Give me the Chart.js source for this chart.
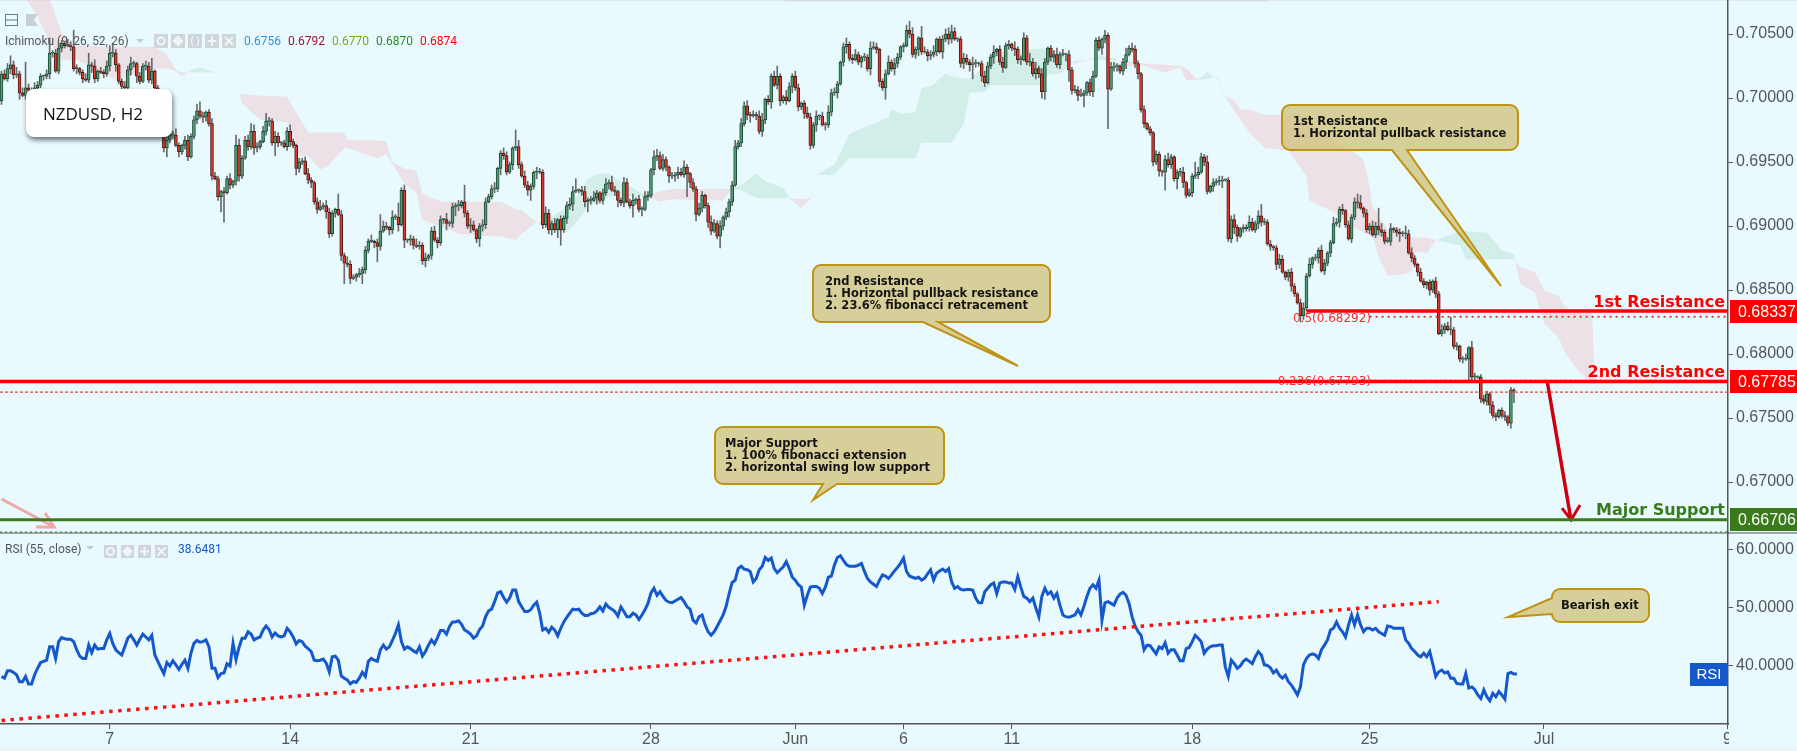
<![CDATA[<!DOCTYPE html>
<html><head><meta charset="utf-8">
<style>html,body{margin:0;padding:0;background:#e9faff;overflow:hidden}canvas{display:block}</style>
<script src="https://cdn.jsdelivr.net/npm/chart.js@4"></script>
</head><body><canvas id="c" width="1797" height="751"></canvas>
<script>
// Close of every two-hour bar, in pips (price x 10000), read off the picture.
const closePips = [
7019,7015,7023,7026,7018,7019,7004,7002,7008,7006,7005,7008,7010,7017,7017,7019,7035,7035,7021,7039,7043,7041,7041,7040,7023,
7023,7020,7015,7014,7026,7025,7015,7021,7020,7019,7025,7035,7035,7026,7013,7009,7008,7022,7027,7027,7017,7013,7025,7025,7014,
7021,7008,6998,6985,6961,6967,6971,6971,6963,6958,6963,6967,6954,6970,6983,6990,6986,6985,6989,6980,6939,6937,6923,6927,6926,
6937,6932,6935,6963,6939,6953,6967,6962,6974,6961,6962,6966,6974,6982,6982,6965,6970,6965,6965,6962,6974,6966,6963,6945,6950,
6951,6941,6936,6934,6919,6913,6915,6916,6911,6894,6910,6913,6909,6877,6871,6870,6859,6860,6862,6863,6866,6881,6888,6888,6887,
6884,6896,6900,6899,6897,6907,6907,6901,6928,6889,6889,6890,6885,6884,6885,6873,6875,6877,6896,6889,6887,6905,6905,6902,6902,
6915,6916,6916,6919,6910,6900,6901,6897,6890,6900,6901,6919,6923,6929,6929,6945,6957,6955,6942,6948,6961,6962,6948,6939,6932,
6928,6931,6942,6942,6942,6901,6910,6897,6902,6897,6905,6897,6906,6916,6917,6927,6928,6928,6927,6919,6920,6920,6922,6926,6920,
6926,6933,6934,6928,6927,6920,6918,6934,6919,6916,6920,6921,6913,6913,6923,6924,6944,6954,6955,6945,6952,6946,6939,6939,6940,
6942,6940,6946,6941,6934,6929,6909,6914,6924,6916,6903,6896,6902,6892,6900,6907,6911,6919,6932,6962,6965,6980,6994,6987,6986,
6987,6986,6974,6983,6999,6997,7017,7010,7017,6998,7001,6998,7009,7017,7008,6993,6996,6988,6985,6963,6979,6986,6986,6979,6979,
6989,7004,7004,7011,7028,7040,7042,7031,7030,7034,7028,7032,7032,7023,7039,7040,7038,7013,7008,7019,7028,7023,7027,7032,7040,
7041,7053,7050,7034,7038,7047,7036,7036,7033,7034,7036,7046,7036,7046,7050,7046,7052,7046,7046,7027,7031,7028,7026,7027,7027,
7027,7017,7012,7025,7032,7036,7038,7028,7024,7041,7042,7039,7038,7030,7030,7047,7028,7028,7019,7023,7019,7005,7028,7039,7032,
7034,7026,7034,7034,7034,7022,7006,7006,7002,7002,7004,7012,7005,7017,7045,7039,7046,7049,7007,7024,7025,7025,7021,7028,7034,
7039,7038,7027,7019,6991,6980,6976,6973,6950,6956,6943,6942,6952,6948,6954,6937,6942,6942,6934,6924,6926,6939,6940,6942,
6954,6950,6927,6931,6934,6935,6935,6936,6936,6890,6905,6899,6892,6898,6898,6899,6903,6897,6902,6908,6903,6903,6886,6884,6883,
6870,6874,6864,6860,6864,6853,6847,6840,6830,6836,6861,6870,6875,6875,6881,6865,6871,6879,6887,6902,6903,6913,6912,6901,6890,
6907,6919,6918,6914,6910,6897,6900,6893,6900,6897,6895,6888,6888,6898,6897,6895,6894,6894,6894,6879,6875,6870,6864,6857,6854,
6856,6850,6857,6847,6816,6819,6822,6819,6819,6806,6806,6796,6796,6796,6805,6782,6782,6782,6765,6763,6769,6760,6752,6751,6756,
6752,6751,6746,6772,6771];
const firstOpenPips = 6998;
// Wick above and below each body, in pips.
const wickUp = [
2,3,4,1,3,5,2,4,1,3,2,4,3,2,1,3,5,2,3,4,2,1,5,3,2,
3,1,2,4,3,2,5,1,3,2,4,6,2,3,1,2,4,3,5,2,1,3,2,4,3,
2,1,2,3,1,4,2,3,5,2,1,3,4,2,3,5,2,3,1,2,4,3,2,1,3,
2,4,1,3,5,2,3,4,2,5,3,1,4,2,3,2,4,3,1,2,3,5,2,1,3,
2,3,4,2,1,3,5,2,4,3,2,1,4,3,2,5,3,2,1,4,2,3,2,5,1,
3,2,4,3,1,5,2,3,2,4,1,3,2,5,3,2,4,1,3,4,2,3,1,5,2,
3,2,4,1,3,2,5,3,1,2,4,3,2,3,5,1,2,4,3,2,1,3,5,2,4,
3,2,1,4,3,2,5,3,2,4,1,3,2,3,5,4,2,1,3,4,2,3,5,2,1,
3,4,2,5,3,1,2,4,3,2,5,1,3,2,4,3,1,5,2,3,4,2,1,3,2,
4,3,5,2,1,3,2,4,3,1,2,5,3,2,4,1,3,2,3,5,2,4,3,1,2,
3,2,4,5,1,3,2,4,3,2,1,5,3,2,4,3,1,2,5,3,2,4,1,3,2,
5,3,4,2,1,3,5,2,3,4,2,1,3,2,5,4,3,1,2,3,5,2,4,3,1,
2,4,3,5,2,1,3,4,2,3,5,1,2,3,4,2,5,3,1,2,4,3,2,5,3,
1,2,4,3,2,5,1,3,4,2,3,1,5,2,3,4,2,1,3,5,2,4,3,1,2,
3,5,2,4,1,3,2,4,3,5,2,1,3,4,2,3,1,5,2,4,3,2,1,3,5,
2,4,3,2,1,3,1,2,1,3,2,1,3,5,2,1,2,3,4,1,3,2,1,4,3,
2,5,1,3,2,4,3,1,2,3,4,2,1,3,2,5,3,2,4,1,3,2,3,1,2,
4,3,1,2,3,2,1,3,4,2,5,1,3,2,4,3,1,2,5,3,2,4,1,3,2,
3,6,2,1,3,2,4,3,1,5,2,3,4,1,2,3,2,1,3,4,2,1,3,2,1,
2,1,3,2,4,2,3,1,2,3,1,2,4,1,2,3,1,2,3,2,1,3,2,1,2,
3,1,2,1,3];
const wickDown = [
3,1,2,4,3,2,5,1,3,4,2,3,1,2,3,2,4,3,1,2,3,2,1,3,2,
4,2,3,1,2,5,3,2,1,3,2,4,3,5,2,3,1,2,4,3,5,2,1,3,2,
3,1,2,2,3,4,2,3,1,4,2,3,3,1,2,3,2,4,3,2,3,1,3,2,4,
1,3,2,3,4,2,1,3,2,5,3,2,1,3,4,2,3,3,2,1,3,4,2,5,3,
2,1,3,4,2,3,1,2,5,3,2,3,1,4,3,2,4,1,3,2,5,3,2,1,4,
2,3,1,2,4,3,2,5,1,3,2,4,3,1,2,3,5,2,3,1,4,2,3,5,2,
3,1,4,2,3,2,5,1,3,2,4,3,1,2,3,2,5,3,2,1,4,2,3,1,2,
4,3,2,5,1,3,2,3,4,2,1,3,2,4,3,5,1,2,3,4,2,3,1,5,2,
3,2,4,1,3,5,2,3,1,2,4,3,2,5,1,3,2,4,3,1,2,3,5,2,4,
3,1,2,3,4,2,5,1,3,2,4,3,1,2,5,3,2,4,3,1,2,3,2,4,5,
1,3,2,4,3,2,5,1,3,4,2,3,1,5,2,3,2,4,1,3,2,5,3,1,4,
2,3,2,4,1,3,5,2,3,1,2,4,3,2,5,1,3,4,2,3,1,2,5,3,2,
4,1,3,2,3,5,2,1,4,3,2,3,1,5,2,4,3,1,2,3,4,2,5,1,3,
2,4,3,1,2,5,3,2,4,1,3,2,5,3,4,1,2,3,2,4,3,5,1,2,3,
4,2,3,1,5,2,3,2,4,1,3,2,3,4,1,2,5,3,2,1,3,4,2,3,5,
1,2,3,4,2,3,1,2,3,2,4,3,1,2,3,2,1,3,4,2,1,3,2,3,1,
3,2,1,4,2,3,5,1,2,3,2,4,1,3,2,3,1,2,4,3,2,1,3,2,4,
3,1,2,3,4,2,1,5,3,2,1,3,2,4,1,3,2,3,1,2,4,3,2,1,3,
2,4,1,3,2,3,1,2,4,3,2,1,3,2,3,1,2,4,1,3,2,3,1,2,3,
4,2,3,1,2,3,1,4,2,3,2,3,1,2,4,2,1,3,2,3,4,2,3,1,2,
3,2,4,1,2];
// Longer shadows that stand out: [bar, wick up, wick down] in pips; 0 keeps the normal wick.
const longWicks = [[3,7,0],[8,20,3],[16,12,0],[24,13,0],[29,9,0],[37,8,0],[50,10,0],[55,0,7],[66,7,0],[73,0,12],[74,0,23],[78,8,0],[83,6,0],[88,6,0],[91,0,10],[112,12,0],[114,0,16],[120,0,8],[125,0,12],[126,13,0],[132,11,0],[134,0,6],[151,0,7],[154,13,0],[159,0,6],[171,13,0],[176,0,8],[185,0,6],[186,0,12],[191,9,0],[195,0,8],[210,0,9],[218,5,0],[228,0,18],[239,0,9],[248,4,0],[258,8,0],[294,0,9],[302,7,0],[306,9,0],[315,5,0],[323,0,11],[342,7,0],[347,0,6],[355,0,9],[360,0,9],[367,4,0],[368,0,31],[387,0,14],[391,0,8],[397,10,0],[410,0,5],[419,9,0],[452,6,0],[458,14,0],[465,0,6],[467,6,0],[482,10,0],[488,0,16],[489,5,0],[495,0,6],[503,0,9],[504,5,7]];
// Ichimoku cloud edges in pips at the bars listed in cloudBars.
const cloudBars = [8,12,16,20,25,38,51,55,58,60, 63,66,71,76,79,80,86,95,99,102, 106,109,114,115,125,128,130,134,138,140, 143,147,152,162,166,171,173,178,180,188, 192,195,199,202,205,215,219,223,240,243, 246,251,254,260,262,266,269,271,277,282, 287,295,296,299,304,306,309,314,316,320, 322,327,329,346,348,352,356,357,361,365, 370,374,380,387,392,394,398,401,403,405, 407,410,412,415,420,428,434,435,443,449, 453,455,456,458,461,467,469,470,474,477, 485,487,494,499,503,505,510,513,518,520, 525,529,530];
const spanA = [7078,7064,7043,7030,7030,7014,7023,7023,7021,7017, 7022,7024,7020,7019,7004,6996,6983,6981,6955,6955, 6944,6948,6961,6961,6953,6956,6949,6933,6926,6905, 6902,6899,6894,6892,6892,6889,6894,6903,6903,6915, 6925,6937,6941,6941,6936,6923,6919,6921,6920,6929, 6932,6941,6935,6930,6922,6914,6921,6940,6948,6972, 6977,6985,6991,6988,6989,7008,7009,7019,7017,7015, 7015,7025,7035,7039,7039,7035,7028,7027,7030,7033, 7031,7025,7025,7020,7024,7014,7014,7021,7016,7014, 7001,6990,6983,6973,6961,6959,6939,6920,6911,6900, 6895,6892,6892,6876,6861,6863,6864,6880,6879,6889, 6896,6896,6895,6881,6878,6855,6848,6824,6812,6801, 6785,6778,6776];
const spanB = [7080,7082,7077,7051,7041,7040,7040,7034,7022,7020, 7020,7020,7020,7019,7004,7003,7002,7001,6985,6973, 6973,6973,6973,6967,6967,6966,6950,6945,6943,6925, 6922,6919,6919,6919,6919,6913,6913,6903,6900,6895, 6905,6915,6918,6923,6923,6923,6927,6929,6929,6929, 6928,6922,6922,6922,6922,6921,6922,6940,6940,6953, 6953,6953,6953,6953,6953,6965,6965,6965,6965,6980, 7004,7005,7010,7010,7018,7019,7028,7029,7030,7030, 7029,7029,7027,7026,7025,7023,7014,7015,7016,7015, 7002,6998,6991,6991,6987,6987,6987,6980,6967,6959, 6952,6931,6915,6908,6897,6891,6891,6891,6891,6889, 6885,6874,6874,6874,6874,6868,6864,6850,6845,6837, 6832,6832,6776];
// RSI(55) for every bar.
const rsiValues = [
38.2,37.9,39.2,39.2,38.9,38.5,37.3,37.3,38.2,36.9,36.9,38.5,39.6,40.6,40.8,41.0,43.3,43.3,41.3,44.2,44.9,44.7,44.6,44.6,44.2,
42.8,41.7,41.3,41.3,43.6,42.3,43.6,42.9,43.0,43.0,44.5,45.6,43.9,42.8,42.3,41.9,43.3,44.8,45.3,44.5,43.6,44.6,45.5,45.0,44.5,
45.3,41.9,40.8,39.7,38.7,40.6,40.0,40.9,40.2,39.4,40.3,41.0,39.6,42.2,43.9,44.4,44.1,44.2,44.5,43.3,39.6,39.6,38.0,38.7,38.8,
40.4,40.0,43.9,41.1,43.2,44.8,44.8,45.9,45.5,44.5,44.8,45.0,46.2,46.9,46.3,45.0,45.7,45.2,45.0,45.2,46.5,45.9,45.0,43.8,44.4,
44.2,43.4,43.0,42.5,41.0,40.9,41.0,41.2,40.5,39.0,41.6,41.7,41.0,38.3,37.9,37.6,36.9,37.3,37.2,37.9,38.9,38.2,40.8,41.3,41.0,
40.8,42.8,43.6,42.9,43.3,44.4,45.6,47.1,44.2,42.9,43.3,43.0,42.6,42.3,43.3,41.7,42.5,43.6,44.5,43.8,44.9,46.1,46.1,45.5,46.8,
47.6,47.6,47.8,47.2,46.2,45.9,45.5,44.8,45.2,46.3,46.9,48.5,49.5,49.8,51.1,52.6,52.8,51.8,51.0,51.7,53.1,53.1,51.1,50.2,49.4,
49.4,49.7,50.5,51.0,49.1,46.2,46.5,45.8,46.7,46.2,45.2,46.5,47.6,48.4,49.1,49.8,49.7,49.8,49.1,48.7,48.7,49.0,49.1,49.5,50.2,
49.5,50.7,50.1,49.8,49.4,48.6,50.2,49.4,48.5,48.5,49.1,48.8,48.0,48.8,49.7,50.8,52.6,53.4,52.2,52.8,52.0,51.3,51.0,50.9,51.2,
51.5,51.8,51.1,50.2,49.8,47.9,47.4,48.5,48.8,47.1,45.9,45.3,45.9,46.8,47.8,48.8,50.3,52.5,54.4,54.8,56.8,57.2,56.7,56.6,56.3,
54.5,55.1,56.6,57.2,58.7,58.2,58.6,56.8,56.1,56.6,57.1,58.0,56.8,55.3,54.8,54.0,53.6,50.5,52.2,53.6,53.7,53.7,53.4,52.5,53.6,
55.3,55.5,57.4,58.7,59.0,58.2,57.5,57.2,57.2,57.2,57.4,57.7,56.3,55.1,54.5,54.1,53.7,54.8,55.7,55.5,55.1,55.7,56.4,57.0,57.7,
58.6,56.3,55.5,55.3,55.1,55.3,54.8,55.1,55.9,56.6,54.8,56.0,56.4,56.7,56.3,56.8,54.5,53.4,53.7,53.2,53.1,53.2,53.2,53.1,51.7,
50.9,50.9,52.8,53.4,54.0,54.3,52.5,54.3,54.5,54.5,54.3,54.3,53.2,55.4,53.6,52.0,51.7,51.1,51.7,50.0,48.5,52.0,53.4,52.4,52.8,
51.7,52.5,50.5,48.8,48.5,48.4,48.6,48.8,49.7,48.8,50.3,52.0,53.4,54.0,53.4,54.8,47.9,50.9,51.1,50.8,50.5,51.7,52.4,52.7,52.2,
50.8,48.5,46.9,45.9,45.3,42.8,43.6,43.5,42.8,42.1,43.3,43.0,44.0,42.2,42.8,42.8,41.9,40.9,40.9,43.0,43.2,44.2,45.3,44.8,44.2,
42.2,42.9,43.3,43.5,43.5,43.6,43.6,39.9,38.2,41.0,40.4,39.6,40.0,40.8,41.2,40.8,40.4,41.6,42.5,41.9,40.2,40.1,39.7,38.8,39.3,
38.4,37.9,38.4,37.3,36.7,35.9,35.0,36.4,40.2,41.3,41.9,42.1,41.9,41.3,42.8,43.6,44.5,46.2,46.5,47.6,46.5,45.9,45.0,47.1,48.8,
47.1,48.8,47.1,45.9,46.5,46.5,46.2,46.5,45.9,45.6,45.3,46.9,46.8,46.5,46.5,46.5,46.5,44.5,43.9,43.0,42.5,41.9,41.6,42.2,41.6,
42.5,40.4,38.2,39.0,39.3,38.8,39.0,37.9,37.9,37.0,36.9,36.9,38.7,36.2,36.4,35.9,35.0,34.4,35.9,34.7,34.0,35.3,34.7,35.6,35.0,
34.3,38.7,38.9,38.6,38.6];
// Straight lines and horizontal levels, given in bars and prices.
const rsiTrendBars = [0,478];
const rsiTrendValues = [30.6,51.1];
const level1st = 0.68337, level2nd = 0.67785, levelSupport = 0.66706;
const fib50 = 0.68292, fib236 = 0.67793, lastClose = 0.67703, supportDotted = 0.6661;
const fibStartBar = 455;
const level1stStartBar = 434;
const lastBarOfAxis = 574.2;
const forecastBars = [514,522], forecastPrices = [0.67797,0.66704];
const forecastHeadBars = [519,522,525], forecastHeadPrices = [0.66797,0.66704,0.6682];
const pastArrowBars = [0,17.5], pastArrowPrices = [0.66868,0.66649];
const pastHeadBars = [14.5,17.5,11.5], pastHeadPrices = [0.66758,0.66649,0.66649];
// Axis ticks.
const priceTicks = [0.705,0.70,0.695,0.69,0.685,0.68,0.675,0.67];
const rsiTicks = [60,50,40];
const dateTickBars = [36,96,156,216,264,300,336,396,455,513,574];
const dateTickLabels = ['7','14','21','28','Jun','6','11','18','25','Jul','9'];

const opens = closePips.map((c,i)=> (i? closePips[i-1] : firstOpenPips)/10000);
const closes = closePips.map(c=>c/10000);
const longMap = new Map(longWicks.map(r=>[r[0],r]));
const pairs = (xs,ys)=>xs.map((x,i)=>({x,y:ys[i]}));
const lineDs = (data,color,width,dash,yAxisID='y')=>({type:'line',data,yAxisID,borderColor:color,borderWidth:width,borderDash:dash||[],pointRadius:0,fill:false,tension:0,order:1,borderCapStyle:'butt'});
const hline = (y,color,width,dash,from=-0.5,to=lastBarOfAxis)=>lineDs([{x:from,y},{x:to,y}],color,width,dash);

const INK='#555555', PANE='#e9faff', RED='#ff0000', GREEN='#3a7a1c', BOX='rgba(210,195,125,0.78)', BOXLINE='#bf9414';

function callout(ctx,x,y,w,h,lines,tail,textX,firstBase){
  const r=8,b=y+h;
  ctx.beginPath();ctx.moveTo(x+r,y);ctx.lineTo(x+w-r,y);ctx.arcTo(x+w,y,x+w,y+r,r);ctx.lineTo(x+w,b-r);ctx.arcTo(x+w,b,x+w-r,b,r);
  if(tail.side==='bottom'){ctx.lineTo(tail.b,b);ctx.lineTo(tail.tx,tail.ty);ctx.lineTo(tail.a,b);}
  ctx.lineTo(x+r,b);ctx.arcTo(x,b,x,b-r,r);
  if(tail.side==='left'){ctx.lineTo(x,tail.b);ctx.lineTo(tail.tx,tail.ty);ctx.lineTo(x,tail.a);}
  ctx.lineTo(x,y+r);ctx.arcTo(x,y,x+r,y,r);ctx.closePath();
  ctx.fillStyle=BOX;ctx.fill();ctx.strokeStyle=BOXLINE;ctx.lineWidth=2;ctx.stroke();
  ctx.fillStyle='#141414';ctx.font='bold 11.5px "DejaVu Sans"';ctx.textAlign='left';ctx.textBaseline='alphabetic';
  lines.forEach((t,i)=>{ctx.fillText(t,textX,firstBase+i*12);});
}
function tag(ctx,y,h,color,text){
  ctx.fillStyle=color;ctx.fillRect(1730,y,67,h);
  ctx.fillStyle='#fff';ctx.font='16px "Liberation Sans"';ctx.textAlign='left';ctx.textBaseline='middle';ctx.fillText(text,1738,y+h/2+1);
}
function squares(ctx,xs,y,size,glyphs){
  xs.forEach((x0,i)=>{
    ctx.fillStyle='#cfd6da';ctx.fillRect(x0,y,size,size);
    const cx=x0+size/2,cy=y+size/2,g=glyphs[i];
    ctx.strokeStyle='#f2f6f8';ctx.lineWidth=2;ctx.beginPath();
    if(g==='o'){ctx.arc(cx,cy,3.5,0,Math.PI*2);}
    if(g==='g'){ctx.arc(cx,cy,3,0,Math.PI*2);ctx.moveTo(cx,cy-5);ctx.lineTo(cx,cy+5);ctx.moveTo(cx-5,cy);ctx.lineTo(cx+5,cy);}
    if(g==='b'){ctx.lineWidth=1.2;ctx.moveTo(cx-2,cy-5);ctx.quadraticCurveTo(cx-5,cy,cx-2,cy+5);ctx.moveTo(cx+2,cy-5);ctx.quadraticCurveTo(cx+5,cy,cx+2,cy+5);}
    if(g==='+'){ctx.moveTo(cx,cy-4.5);ctx.lineTo(cx,cy+4.5);ctx.moveTo(cx-4.5,cy);ctx.lineTo(cx+4.5,cy);}
    if(g==='x'){ctx.moveTo(cx-4,cy-4);ctx.lineTo(cx+4,cy+4);ctx.moveTo(cx+4,cy-4);ctx.lineTo(cx-4,cy+4);}
    ctx.stroke();
  });
}

const decorate={id:'decorate',
 beforeDraw(c){const x=c.ctx;x.fillStyle=PANE;x.fillRect(0,0,1797,751);x.fillStyle='#e4e9ee';x.fillRect(0,0,1797,1);x.fillStyle='#d8dde3';x.fillRect(785,0,484,1.5);x.fillStyle='#eef0f2';x.fillRect(0,749,1797,2);},
 afterDatasetsDraw(c){const x=c.ctx;x.save();
  // divider between the two panes
  x.strokeStyle=INK;x.lineWidth=1.2;x.beginPath();x.moveTo(0,533);x.lineTo(1797,533);x.stroke();
  // chart name
  x.save();x.shadowColor='rgba(0,0,0,0.55)';x.shadowBlur=5;x.shadowOffsetX=1;x.shadowOffsetY=3;x.fillStyle='#fff';x.beginPath();x.roundRect(26,89,146,48,8);x.fill();x.restore();
  x.fillStyle='#111';x.font='17px "Open Sans"';x.textAlign='left';x.textBaseline='alphabetic';x.fillText('NZDUSD, H2',43,120);
  // legend top left
  x.strokeStyle='#777';x.lineWidth=1;x.strokeRect(5.5,14.5,12,11);x.beginPath();x.moveTo(6,20);x.lineTo(17,20);x.stroke();
  x.fillStyle='#c9d0d4';x.beginPath();x.moveTo(26,14);x.lineTo(38,14);x.lineTo(34,20);x.lineTo(38,26);x.lineTo(26,26);x.closePath();x.fill();
  x.font='12px "Roboto"';x.fillStyle=INK;x.fillText('Ichimoku (9, 26, 52, 26)',5,45);
  x.fillStyle='#c4cbd0';x.beginPath();x.moveTo(136,39);x.lineTo(144,39);x.lineTo(140,43);x.closePath();x.fill();
  squares(x,[154,171,188,205,222],34,14,['o','g','b','+','x']);
  x.font='12px "Roboto"';x.textAlign='left';
  [['0.6756','#2196f3',244],['0.6792','#a01030',288],['0.6770','#7aa81a',332],['0.6870','#2e8b20',376],['0.6874','#ff0000',420]].forEach(l=>{x.fillStyle=l[1];x.fillText(l[0],l[2],45);});
  // RSI legend
  x.fillStyle=INK;x.fillText('RSI (55, close)',5,553);
  x.fillStyle='#c4cbd0';x.beginPath();x.moveTo(86,546);x.lineTo(94,546);x.lineTo(90,550);x.closePath();x.fill();
  squares(x,[104,121,138,155],545,13,['o','g','+','x']);
  x.fillStyle='#1558cc';x.font='12px "Roboto"';x.fillText('38.6481',178,553);
  x.fillStyle='#1558cc';x.fillRect(1690,663,38,23);x.fillStyle='#fff';x.font='15px "Liberation Sans"';x.textAlign='center';x.textBaseline='middle';x.fillText('RSI',1709,675);x.textBaseline='alphabetic';
  // callouts
  callout(x,813,265,237,57,['2nd Resistance','1. Horizontal pullback resistance','2. 23.6% fibonacci retracement'],{side:'bottom',a:923,b:938,tx:1018,ty:366},825,285);
  callout(x,715,427,229,57,['Major Support','1. 100% fibonacci extension','2. horizontal swing low support'],{side:'bottom',a:823,b:837,tx:813,ty:500},725,447);
  callout(x,1282,105,236,45,['1st Resistance','1. Horizontal pullback resistance'],{side:'bottom',a:1392,b:1407,tx:1501,ty:286},1293,125);
  callout(x,1552,589,97,33,['Bearish exit'],{side:'left',a:598,b:614,tx:1508,ty:617},1561,609);
  // level captions
  x.textAlign='right';x.font='bold 16px "DejaVu Sans"';
  x.fillStyle=RED;x.fillText('1st Resistance',1725,307);x.fillText('2nd Resistance',1725,377);
  x.fillStyle=GREEN;x.fillText('Major Support',1725,515);
  x.font='12px "DejaVu Sans"';x.fillStyle='#f23030';x.fillText('0.5(0.68292)',1371,322);x.fillText('0.236(0.67793)',1371,385);
  x.textAlign='left';
  tag(x,300,23,RED,'0.68337');tag(x,370,23,RED,'0.67785');tag(x,508,23,GREEN,'0.66706');
  x.restore();
 },
 afterDraw(c){const x=c.ctx;x.save();x.fillStyle=PANE;x.fillRect(1729,725,68,24);x.restore();}
};

const noPad=a=>{a.paddingTop=0;a.paddingBottom=0;a.paddingLeft=0;a.paddingRight=0;};
const tickFont={family:'"Liberation Sans"',size:16};
new Chart(document.getElementById('c'),{
 type:'bar',
 plugins:[decorate],
 data:{datasets:[
  lineDs(pairs(rsiTrendBars,rsiTrendValues),'#ff1010',3.5,[3.5,5.5],'rsi'),
  lineDs(rsiValues.map((v,i)=>({x:i,y:v})),'#1558cc',3,[],'rsi'),
  hline(level2nd,RED,3.5),
  hline(level1st,RED,3.5,[],level1stStartBar),
  hline(fib50,'#f23030',2,[2,4],fibStartBar),
  hline(fib236,'#f23030',1.5,[2,3],fibStartBar),
  hline(lastClose,'#f04030',1.2,[3,2]),
  hline(levelSupport,GREEN,3),
  hline(supportDotted,'#8cc07a',2,[2,3]),
  lineDs(pairs(forecastBars,forecastPrices),'#cc0010',3.5),
  lineDs(pairs(forecastHeadBars,forecastHeadPrices),'#cc0010',3),
  lineDs(pairs(pastArrowBars,pastArrowPrices),'#f0a8a8',3),
  lineDs(pairs(pastHeadBars,pastHeadPrices),'#f0a8a8',3),
  {type:'bar',label:'body',order:3,yAxisID:'y',grouped:false,barThickness:3,minBarLength:1,borderWidth:1,borderSkipped:false,
   data:closes.map((c,i)=>({x:i,y:[opens[i],c]})),
   backgroundColor:ctx=>closes[ctx.dataIndex]>=opens[ctx.dataIndex]?'#4f9f78':'#e0392b',
   borderColor:ctx=>closes[ctx.dataIndex]>=opens[ctx.dataIndex]?'#1d4a35':'#4a1c16'},
  {type:'bar',label:'wick',order:4,yAxisID:'y',grouped:false,barThickness:1,borderWidth:0,backgroundColor:'#6a6a6a',
   data:closes.map((c,i)=>{const l=longMap.get(i),u=(l&&l[1])||wickUp[i]||0,d=(l&&l[2])||wickDown[i]||0;return {x:i,y:[Math.min(opens[i],c)-d/10000,Math.max(opens[i],c)+u/10000]};})},
  {type:'line',label:'spanA',order:6,yAxisID:'y',data:pairs(cloudBars,spanA.map(v=>v/10000)),borderWidth:0,borderColor:'transparent',pointRadius:0,tension:0,
   fill:{target:'+1',above:'rgba(170,220,195,0.38)',below:'rgba(240,190,195,0.42)'}},
  {type:'line',label:'spanB',order:7,yAxisID:'y',data:pairs(cloudBars,spanB.map(v=>v/10000)),borderWidth:0,borderColor:'transparent',pointRadius:0,tension:0,fill:false}
 ]},
 options:{responsive:false,animation:false,devicePixelRatio:1,maintainAspectRatio:false,
  layout:{padding:0},
  plugins:{legend:{display:false},tooltip:{enabled:false}},
  scales:{
   x:{type:'linear',position:'bottom',offset:false,min:-0.5,max:lastBarOfAxis,
     afterBuildTicks:a=>{a.ticks=dateTickBars.map(v=>({value:v}));},
     afterFit:a=>{a.height=27;noPad(a);},
     grid:{offset:false,drawOnChartArea:false,drawTicks:true,tickLength:5,color:INK},
     border:{display:true,color:INK,width:1.5},
     ticks:{autoSkip:false,maxRotation:0,padding:1,color:INK,font:tickFont,callback:v=>{const i=dateTickBars.indexOf(v);return i<0?'':dateTickLabels[i];}}},
   y:{type:'linear',position:'right',stack:'panes',stackWeight:533,weight:0,min:0.66602,max:0.70766,
     afterBuildTicks:a=>{a.ticks=priceTicks.map(v=>({value:v}));},
     afterFit:a=>{a.width=69;noPad(a);},
     grid:{drawOnChartArea:false,drawTicks:true,tickLength:5,color:INK},
     border:{display:true,color:INK,width:1.5},
     ticks:{color:INK,font:tickFont,padding:3,callback:v=>v.toFixed(5)}},
   rsi:{type:'linear',position:'right',stack:'panes',stackWeight:191,weight:1,min:30,max:62.93,
     afterBuildTicks:a=>{a.ticks=rsiTicks.map(v=>({value:v}));},
     afterFit:a=>{a.width=69;noPad(a);},
     grid:{drawOnChartArea:false,drawTicks:true,tickLength:5,color:INK},
     border:{display:true,color:INK,width:1.5},
     ticks:{color:INK,font:tickFont,padding:3,callback:v=>v.toFixed(4)}}
  }
 }
});
</script></body></html>]]>
